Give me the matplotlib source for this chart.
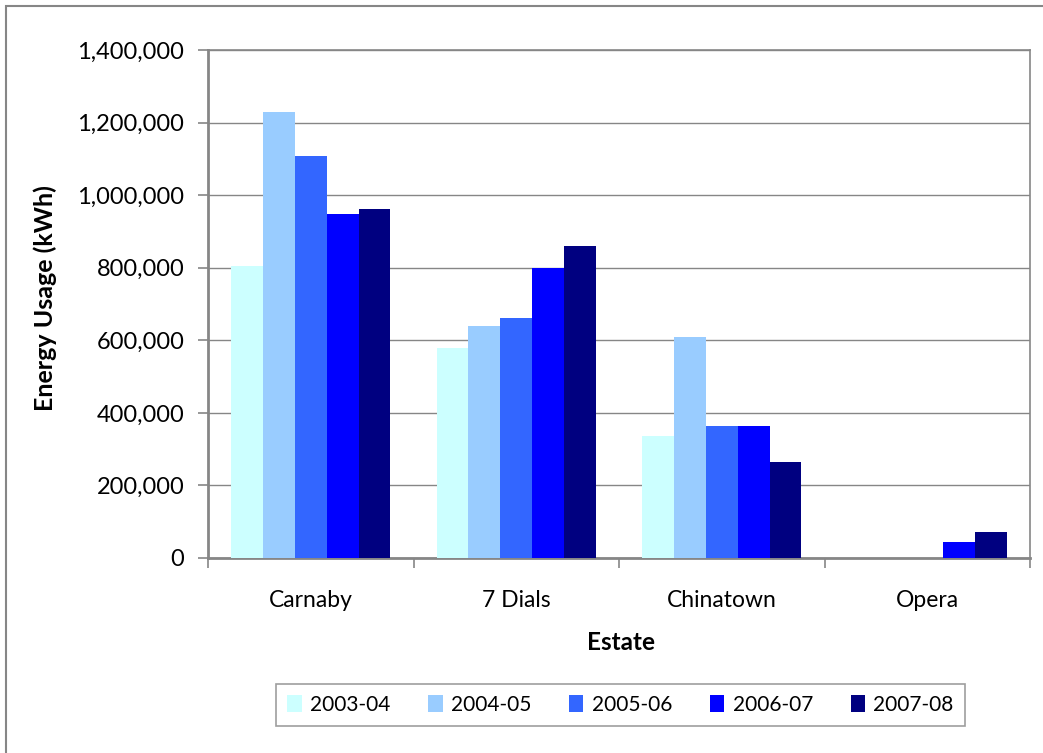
import matplotlib
matplotlib.use("Agg")
import matplotlib.pyplot as plt
import numpy as np
from matplotlib.ticker import FuncFormatter, MultipleLocator
from matplotlib.patches import Rectangle

estates = ["Carnaby", "7 Dials", "Chinatown", "Opera"]
years = ["2003-04", "2004-05", "2005-06", "2006-07", "2007-08"]
usage_2003_04 = [805000, 580000, 336000, 0]
usage_2004_05 = [1230000, 640000, 609000, 0]
usage_2005_06 = [1108000, 662000, 364000, 0]
usage_2006_07 = [948000, 800000, 364000, 44000]
usage_2007_08 = [962000, 860000, 265000, 72000]
colors = ["#CCFFFF", "#99CCFF", "#3366FF", "#0000FF", "#000080"]

series = [usage_2003_04, usage_2004_05, usage_2005_06, usage_2006_07, usage_2007_08]

plt.rcParams["font.family"] = ["Lato", "DejaVu Sans"]

W, H = 1043, 753
fig = plt.figure(figsize=(W / 100, H / 100), dpi=100)
ax = fig.add_axes([208 / W, (H - 558) / H, 822 / W, 508 / H])

grid_col = "#868686"
bar_w = 0.155
x = np.arange(len(estates))
for i, (vals, col) in enumerate(zip(series, colors)):
    offs = (i - 2) * bar_w
    ax.bar(x + offs, vals, width=bar_w, color=col, label=years[i], zorder=3)

ax.set_xlim(-0.5, len(estates) - 0.5)
ax.set_ylim(0, 1400000)
ax.yaxis.set_major_locator(MultipleLocator(200000))
ax.yaxis.set_major_formatter(FuncFormatter(lambda v, p: f"{int(v):,}"))
ax.grid(axis="y", color=grid_col, linewidth=1.0, zorder=0)

ax.set_xticks(x)
ax.set_xticklabels(estates, fontsize=16.5)
ax.set_xticks(np.arange(len(estates) + 1) - 0.5, minor=True)
ax.tick_params(axis="x", which="major", length=0, pad=23)
ax.tick_params(axis="x", which="minor", length=7, color=grid_col, width=1.2)
ax.tick_params(axis="y", length=7, color=grid_col, width=1.2, labelsize=17, pad=10)

for s in ax.spines.values():
    s.set_color(grid_col)
    s.set_linewidth(1.2)
ax.spines["left"].set_linewidth(2.0)
ax.spines["bottom"].set_linewidth(2.0)

fig.text(45 / W, 1 - 298 / H, "Energy Usage (kWh)", rotation=90, fontsize=18,
         fontweight="bold", ha="center", va="center")
fig.text(621 / W, 1 - 643 / H, "Estate", fontsize=17.5, fontweight="bold",
         ha="center", va="center")

leg = ax.legend(loc="center", bbox_to_anchor=(620.5 / W, (H - 705) / H),
                bbox_transform=fig.transFigure, ncol=5, frameon=True,
                fancybox=False, edgecolor=grid_col, fontsize=15,
                handlelength=0.7, handleheight=0.85, handletextpad=0.4,
                columnspacing=1.8, borderpad=0.55)
leg.get_frame().set_linewidth(1.2)

# outer chart border
fig.add_artist(Rectangle((6 / W, -0.1), 1.2, 1.1 - 6 / H, transform=fig.transFigure,
                         fill=False, edgecolor=grid_col, linewidth=1.5))

fig.savefig("out.png", dpi=100, facecolor="white")
